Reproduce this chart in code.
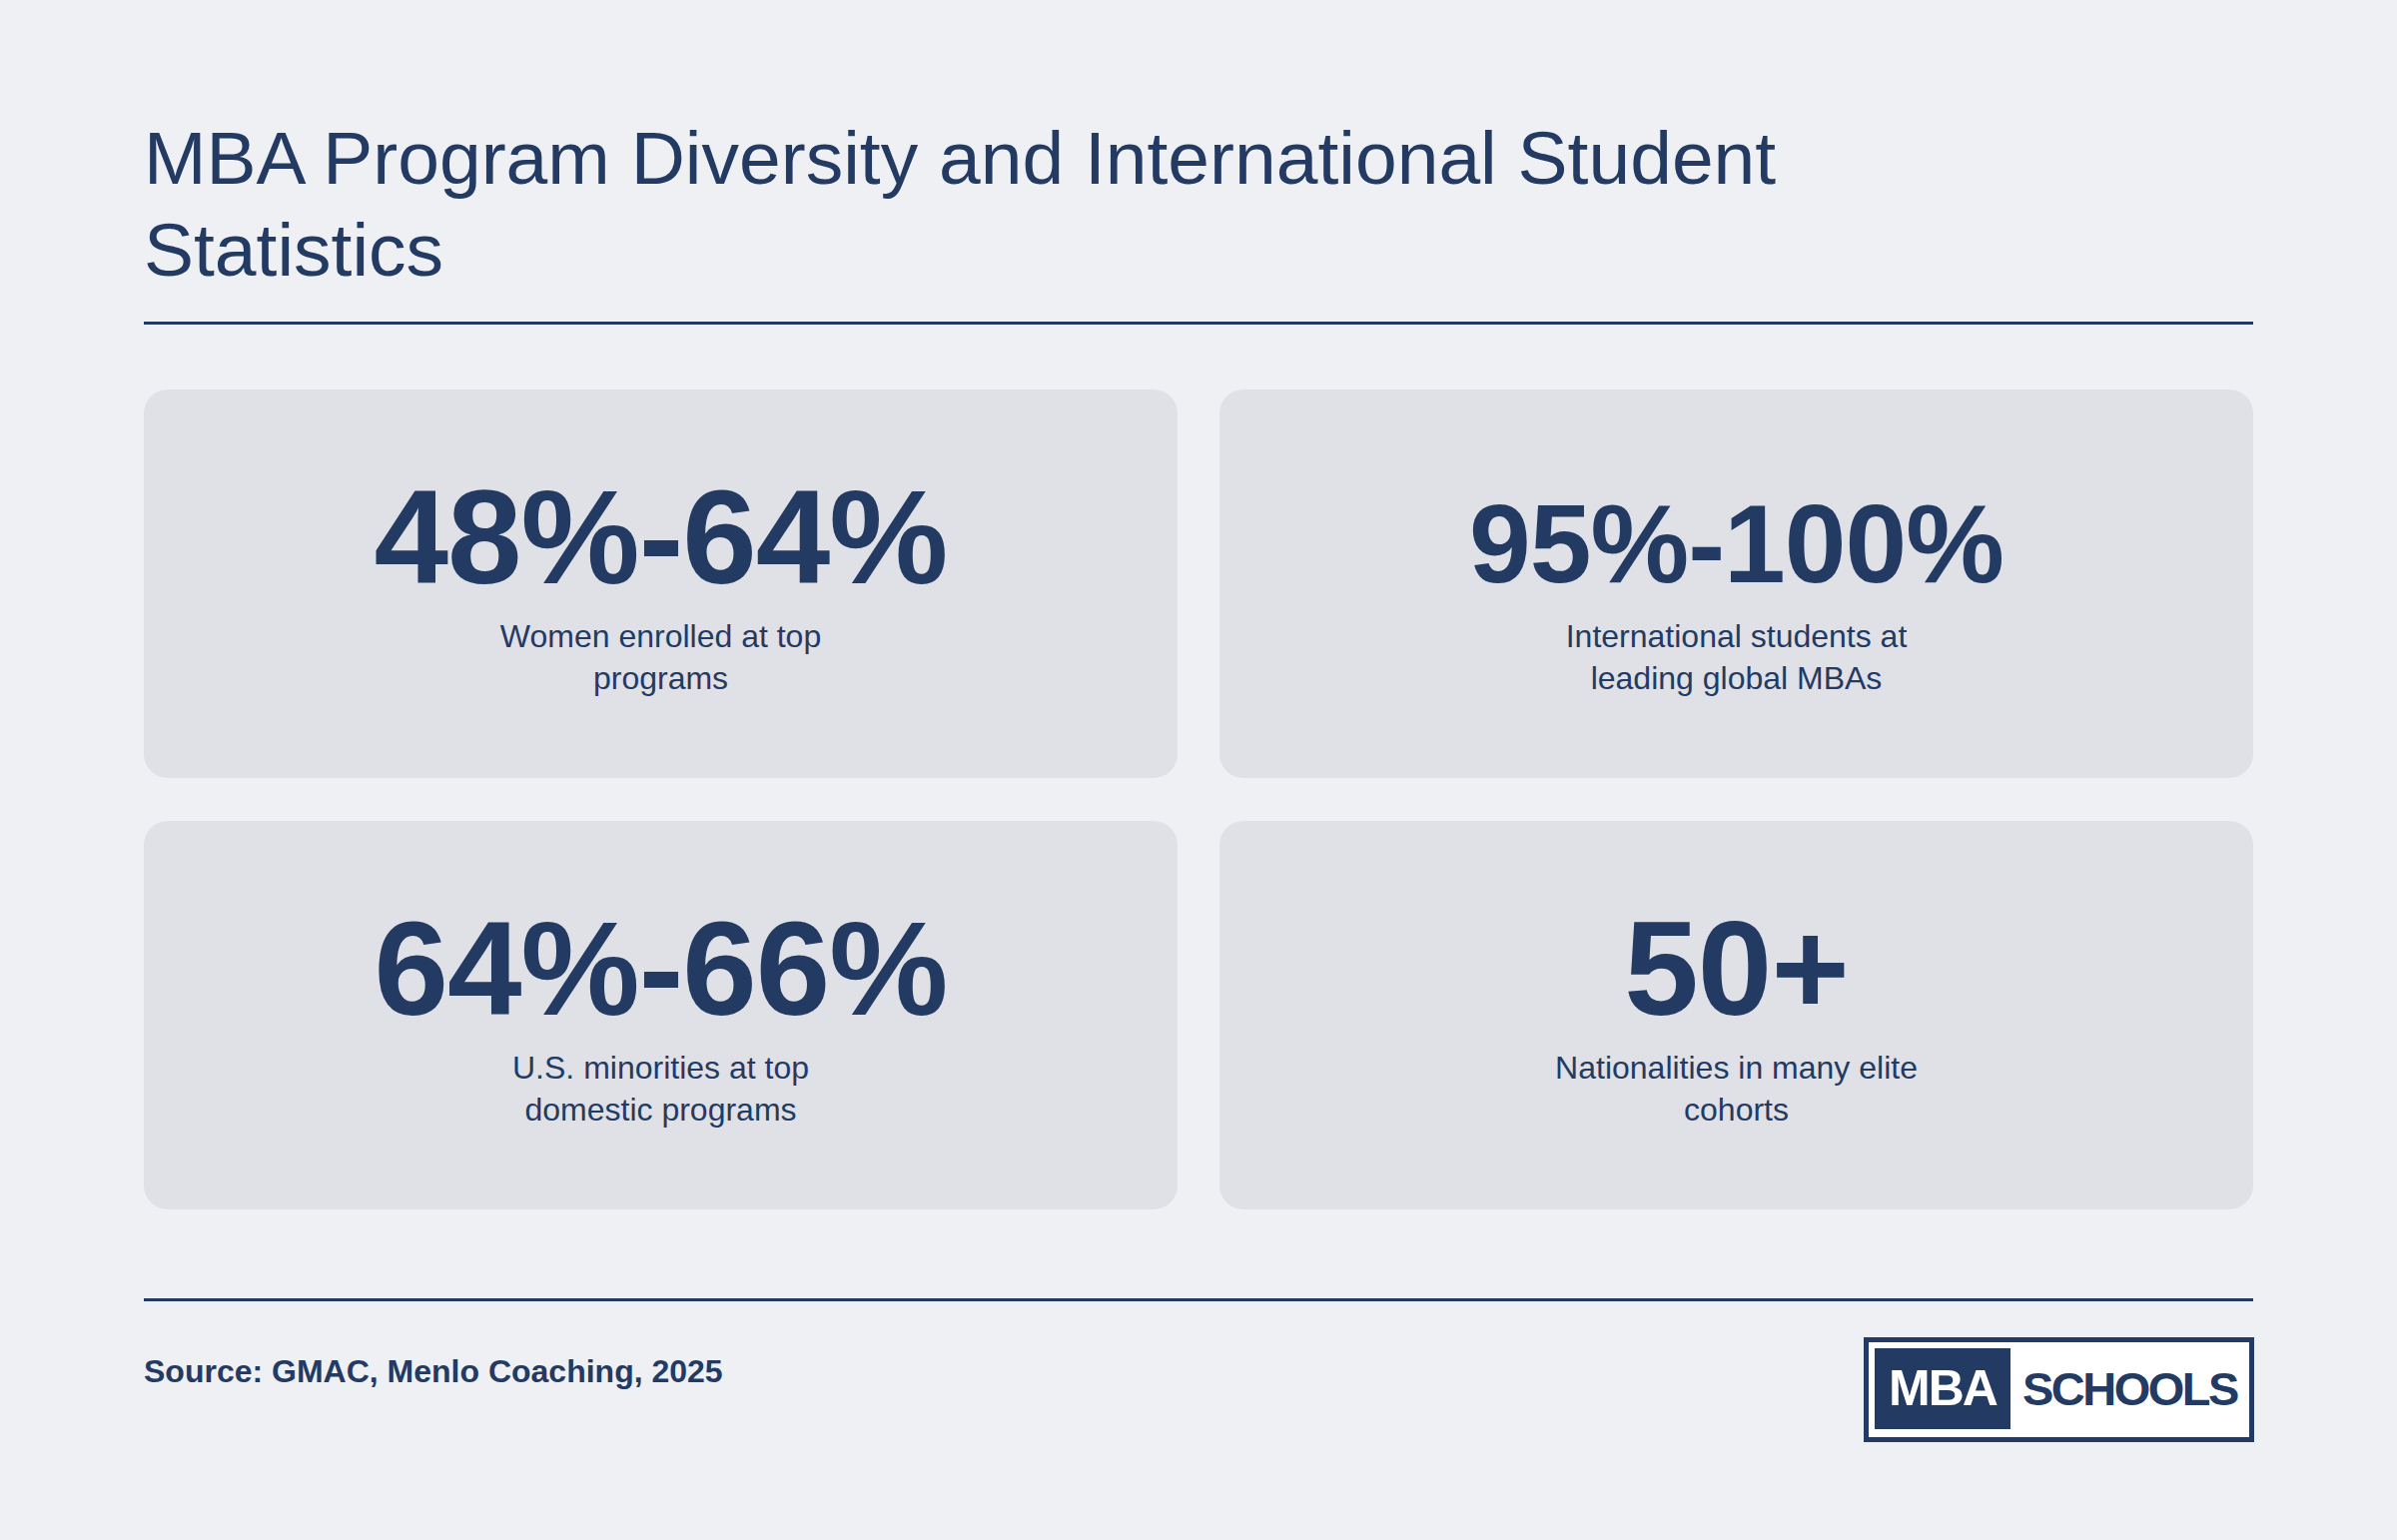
<!DOCTYPE html>
<html>
<head>
<meta charset="utf-8">
<script src="https://cdn.jsdelivr.net/npm/chart.js@4"></script>
<style>
  html, body { margin: 0; padding: 0; }
  body {
    width: 2400px; height: 1542px; background: #eff0f3;
    font-family: "Liberation Sans", Arial, sans-serif; color: #233a63;
    position: relative; overflow: hidden;
  }
  #title {
    position: absolute; left: 144px; top: 112px; width: 1900px;
    font-size: 75px; line-height: 92px; font-weight: normal; margin: 0;
  }
  .rule { position: absolute; left: 144px; width: 2112px; height: 3px; background: #233a63; }
  .card {
    position: absolute; width: 1035px; height: 389px; background: #dfe1e7;
    border-radius: 24px; text-align: center;
  }
  .card .value {
    position: absolute; left: 0; right: 0; top: 78px;
    font-size: 134px; font-weight: bold; line-height: 140px; letter-spacing: -1px;
  }
  .card .value.long { font-size: 111px; top: 85px; }
  .card .label {
    position: absolute; left: 50%; transform: translateX(-50%); top: 226px;
    width: 390px; font-size: 32px; line-height: 42px;
  }
  #source { position: absolute; left: 144px; top: 1355px; font-size: 32px; font-weight: bold; }
  #logo {
    position: absolute; left: 1866px; top: 1339px; width: 381px; height: 95px;
    border: 5px solid #233a63; background: #fff;
  }
  #logo .mba {
    position: absolute; left: 6px; top: 6px; width: 136px; height: 81px;
    background: #233a63; color: #fff; font-weight: bold; font-size: 50px;
    line-height: 81px; text-align: center; letter-spacing: -2px;
  }
  #logo .schools {
    position: absolute; left: 154px; top: 6px; line-height: 81px;
    font-weight: bold; font-size: 47px; letter-spacing: -2.5px;
  }
</style>
</head>
<body>
<h1 id="title"></h1>
<div class="rule" style="top:322px"></div>
<div id="cards"></div>
<div class="rule" style="top:1300px"></div>
<div id="source"></div>
<div id="logo"><div class="mba">MBA</div><div class="schools">SCHOOLS</div></div>
<script>
// Dados do painel
const titulo = 'MBA Program Diversity and International Student Statistics';
const valores = ['48%-64%', '95%-100%', '64%-66%', '50+'];
const rotulos = [
    'Women enrolled at top programs',
    'International students at leading global MBAs',
    'U.S. minorities at top domestic programs',
    'Nationalities in many elite cohorts'
];
const fonte = 'Source: GMAC, Menlo Coaching, 2025';

document.getElementById('title').textContent = titulo;
document.getElementById('source').textContent = fonte;

// Criar cards de estatísticas
const cards = document.getElementById('cards');
valores.forEach((valor, i) => {
    const card = document.createElement('div');
    card.className = 'card';
    card.style.left = (i % 2 === 0 ? 144 : 1221) + 'px';
    card.style.top = (i < 2 ? 390 : 822) + 'px';
    const v = document.createElement('div');
    // textos longos ficam com fonte menor
    v.className = valor.length > 7 ? 'value long' : 'value';
    v.textContent = valor;
    const l = document.createElement('div');
    l.className = 'label';
    l.textContent = rotulos[i];
    card.appendChild(v);
    card.appendChild(l);
    cards.appendChild(card);
});
</script>
</body>
</html>
